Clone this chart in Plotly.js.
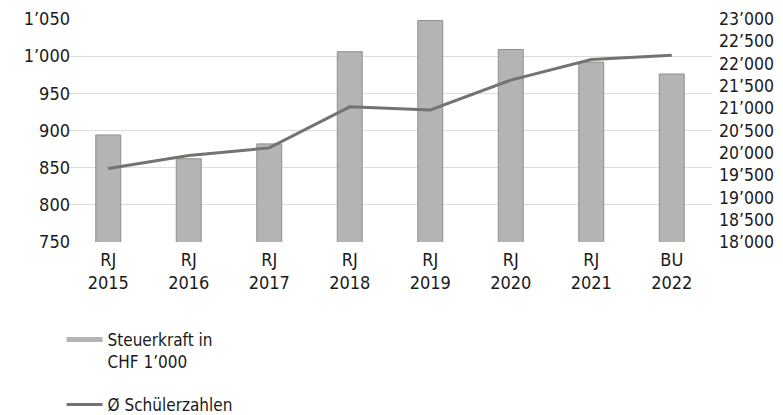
<!DOCTYPE html>
<html><head><meta charset="utf-8">
<script src="https://cdn.plot.ly/plotly-3.0.1.min.js"></script>
<style>body{margin:0;padding:0;background:#fff}#chart{width:783px;height:415px}</style>
</head><body><div id="chart"></div>
<script>
const categories = ["RJ<br>2015","RJ<br>2016","RJ<br>2017","RJ<br>2018","RJ<br>2019","RJ<br>2020","RJ<br>2021","BU<br>2022"];
const steuerkraft = [894, 862, 882, 1006, 1048, 1009, 992, 976];
const schueler = [19650, 19940, 20110, 21030, 20960, 21630, 22090, 22190];
const leftTicks = [750, 800, 850, 900, 950, 1000, 1050];
const rightTicks = [18000,18500,19000,19500,20000,20500,21000,21500,22000,22500,23000];
const barName = 'Steuerkraft in<br>CHF 1’000';
const lineName = 'Ø Schülerzahlen';

const FONT = '"DejaVu Sans Condensed", "DejaVu Sans", sans-serif';
const BAR_FILL = '#b4b4b2';
const LINE_COL = '#74736f';

const traces = [
  {type:'bar', x:categories, y:steuerkraft, name:barName, showlegend:false,
   marker:{color:BAR_FILL, line:{color:'#8f8f8d', width:1}}, yaxis:'y'},
  // legend proxy for the bar series (flat bar-like swatch)
  {type:'scatter', mode:'lines', x:[null], y:[null], name:barName, legendgroup:'a',
   line:{color:BAR_FILL, width:5}, yaxis:'y', hoverinfo:'skip'},
  {type:'scatter', mode:'lines', x:categories, y:schueler, name:lineName, legendgroup:'b',
   line:{color:LINE_COL, width:3}, yaxis:'y2'}
];

const layout = {
  width:783, height:415,
  margin:{l:68, r:71, t:19, b:173, autoexpand:false},
  paper_bgcolor:'#fff', plot_bgcolor:'#fff',
  separators:'.’',
  font:{family:FONT, size:17, color:'#1a1a1a'},
  bargap:0.69,
  showlegend:true,
  legend:{orientation:'v', x:-0.01, xanchor:'left', y:-0.358, yanchor:'top',
          itemwidth:36, traceorder:'grouped', tracegroupgap:18, valign:'top',
          font:{size:17, family:FONT, color:'#1a1a1a'}},
  xaxis:{type:'category', showgrid:false, showline:false, ticks:'', zeroline:false,
         ticklabelstandoff:5, tickfont:{size:18}},
  yaxis:{range:[750,1050], tickvals:leftTicks, tickformat:',d', showgrid:true,
         gridcolor:'#dcdcdc', gridwidth:1.3, zeroline:false, showline:false, ticks:'',
         ticklabelstandoff:-3, tickfont:{size:18}},
  yaxis2:{range:[18000,23000], tickvals:rightTicks, tickformat:',d', overlaying:'y', side:'right',
          showgrid:false, zeroline:false, showline:false, ticks:'',
          ticklabelstandoff:6, tickfont:{size:17.5}}
};

Plotly.newPlot('chart', traces, layout, {displayModeBar:false, staticPlot:true});
</script></body></html>
